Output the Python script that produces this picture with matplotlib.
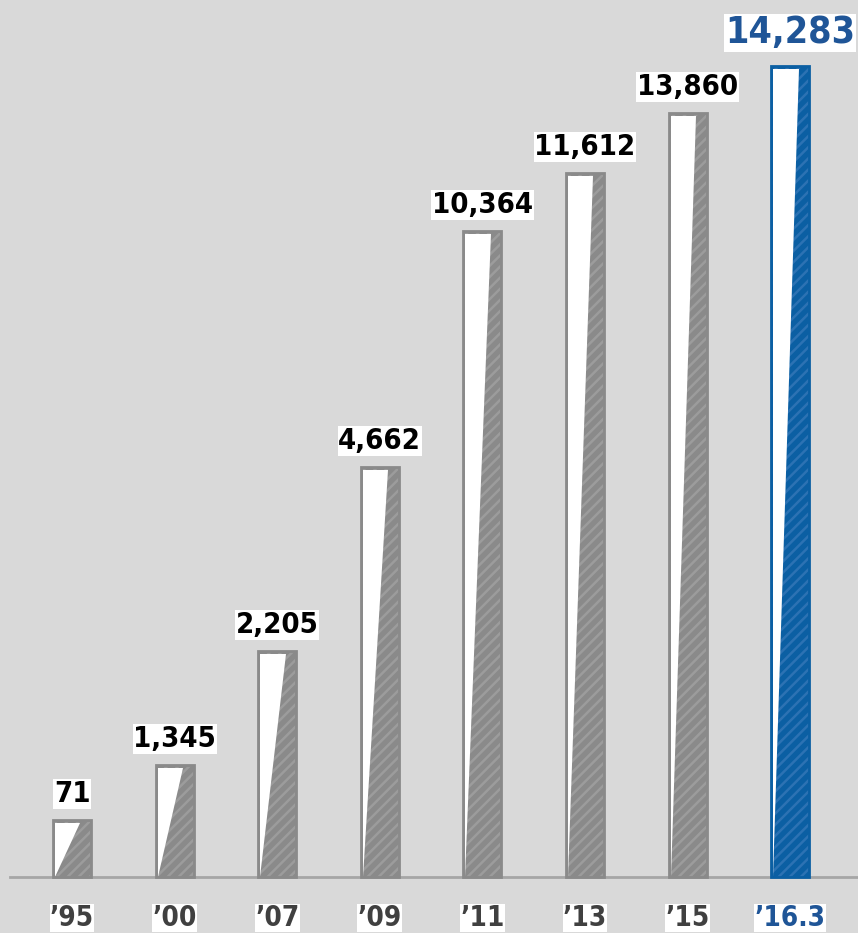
import numpy as np
import matplotlib.pyplot as plt
from matplotlib.patches import Polygon

# data
years = ["\u201995", "\u201900", "\u201907", "\u201909", "\u201911", "\u201913", "\u201915", "\u201916.3"]
values = [71, 1345, 2205, 4662, 10364, 11612, 13860, 14283]
# drawn bar heights (the picture is not to scale)
heights = [57, 112, 226, 410, 646, 704, 764, 811]

bg = "#d9d9d9"
gray = "#8a8a8a"
gray_stripe = "#9c9c9c"
blue = "#0b5fa3"
blue_stripe = "#2c72b3"
label_blue = "#1f5597"

plt.rcParams["hatch.linewidth"] = 1.8

fig = plt.figure(figsize=(8.58, 9.33), dpi=100, facecolor=bg)
ax = fig.add_axes([0, 0, 1, 1], facecolor=bg)
ax.set_xlim(-0.702, 7.661)
ax.set_ylim(-56, 877)
ax.axis("off")

x = np.arange(len(values))
w = 0.37
ax.plot([-0.6, 7.661], [0, 0], color="#a6a6a6", lw=2, zorder=1)

for i, (h, v, yr) in enumerate(zip(heights, values, years)):
    last = i == len(values) - 1
    base, stripe = (blue, blue_stripe) if last else (gray, gray_stripe)
    ax.bar(x[i], h, width=w, color=base, edgecolor=stripe, hatch="///", linewidth=0, zorder=2)
    left = x[i] - w / 2 + 0.02
    tri = Polygon([[left, 0], [left, h - 3], [x[i] - w / 2 + 0.72 * w, h - 3]],
                  closed=True, facecolor="white", edgecolor="none", zorder=3)
    ax.add_patch(tri)
    ax.bar(x[i], h, width=w, fill=False, edgecolor=base, linewidth=2, zorder=4)

    txt_color = label_blue if last else "black"
    size = 27 if last else 21
    off = 33 if last else 26
    ax.text(x[i], h + off, f"{v:,}", ha="center", va="center", fontsize=size,
            fontweight="bold", fontstretch="condensed", family="DejaVu Sans", color=txt_color,
            bbox=dict(facecolor="white", edgecolor="none", pad=0.5), zorder=5)
    ax.text(x[i], -41, yr, ha="center", va="center", fontsize=20,
            fontweight="bold", fontstretch="condensed", family="DejaVu Sans",
            color=label_blue if last else "#404040",
            bbox=dict(facecolor="white", edgecolor="none", pad=0.3), zorder=5)

fig.savefig("out.png", dpi=100, facecolor=bg)
